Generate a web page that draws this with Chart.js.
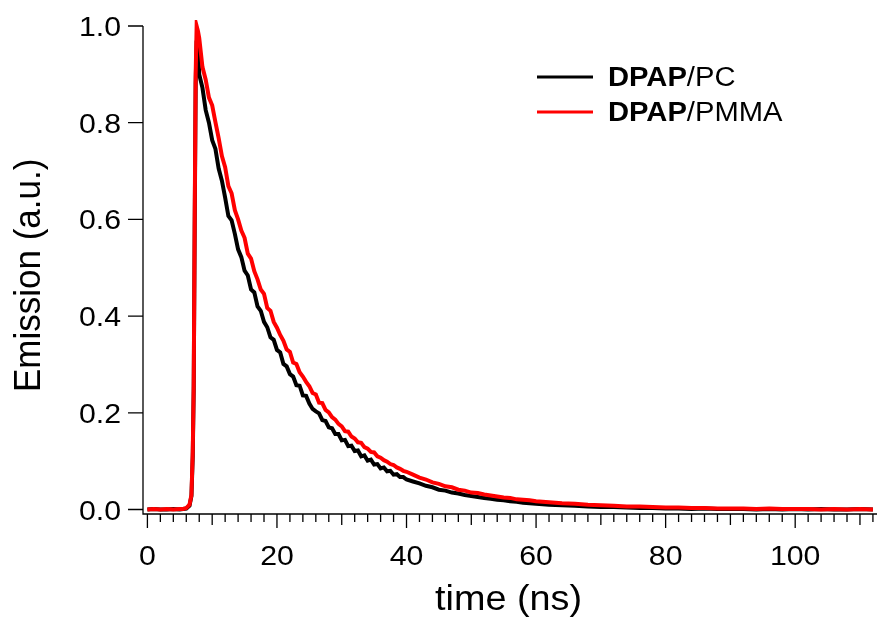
<!DOCTYPE html>
<html>
<head>
<meta charset="utf-8">
<script src="https://cdn.jsdelivr.net/npm/chart.js@4.4.1/dist/chart.umd.min.js"></script>
<style>
  html, body { margin: 0; padding: 0; background: #fff; overflow: hidden; }
  canvas { display: block; }
</style>
</head>
<body>
<canvas id="decayChart" width="877" height="619"></canvas>
<script>
// time axis (ns)
const timeNs = [0, 1, 2, 3, 4, 5, 5.5, 6, 6.5, 6.8, 7, 7.15, 7.3, 7.45, 7.6, 7.8,
  8, 8.5, 9, 9.5, 10, 10.5, 11, 11.5, 12, 12.5, 13, 13.5, 14, 14.5, 15, 15.5, 16, 16.5, 17, 17.5,
  18, 18.5, 19, 19.5, 20, 20.5, 21, 21.5, 22, 22.5, 23, 23.5, 24, 24.5, 25, 25.5, 26, 26.5, 27, 27.5,
  28, 28.5, 29, 29.5, 30, 30.5, 31, 31.5, 32, 32.5, 33, 33.5, 34, 34.5, 35, 35.5, 36, 36.5, 37, 37.5,
  38, 38.5, 39, 39.5, 40,
  41, 42, 43, 44, 45, 46, 47, 48, 49, 50, 51, 52, 53, 54, 55, 56, 57, 58, 59, 60,
  62, 64, 66, 68, 70, 72, 74, 76, 78, 80, 82, 84, 86, 88, 90, 92, 94, 96, 98, 100, 102, 104, 106, 108, 110, 112];

// DPAP/PC (black)
const pcEmission = [0.000, 0.001, 0.000, 0.000, 0.001, 0.000, 0.001, 0.002, 0.008, 0.028, 0.110, 0.250, 0.580, 0.880, 0.970, 0.955,
  0.900, 0.872, 0.826, 0.800, 0.764, 0.746, 0.705, 0.680, 0.645, 0.607,
  0.598, 0.570, 0.538, 0.522, 0.494, 0.484, 0.455, 0.449, 0.420, 0.411,
  0.388, 0.377, 0.356, 0.351, 0.330, 0.325, 0.301, 0.296, 0.280, 0.275,
  0.257, 0.256, 0.236, 0.235, 0.219, 0.208, 0.203, 0.199, 0.185, 0.183,
  0.170, 0.168, 0.156, 0.156, 0.143, 0.144, 0.131, 0.132, 0.121, 0.122,
  0.110, 0.112, 0.101, 0.103, 0.093, 0.094, 0.085, 0.087, 0.079, 0.080,
  0.072, 0.073, 0.067, 0.067, 0.062,
  0.058, 0.054, 0.049, 0.046, 0.041, 0.039, 0.035, 0.033, 0.030, 0.028, 0.026, 0.024, 0.022, 0.020, 0.019, 0.017, 0.016, 0.014, 0.013, 0.012,
  0.010, 0.009, 0.008, 0.006, 0.005, 0.005, 0.004, 0.003, 0.003, 0.002, 0.002, 0.001, 0.002, 0.001, 0.001, 0.001, 0.000, 0.001, 0.000, 0.001,
  0.000, 0.001, 0.000, 0.000, 0.001, 0.000];

// DPAP/PMMA (red)
const pmmaEmission = [0.000, 0.001, 0.000, 0.001, 0.000, 0.001, 0.001, 0.003, 0.010, 0.030, 0.120, 0.260, 0.600, 0.900, 1.000, 0.990,
  0.975, 0.915, 0.889, 0.852, 0.836, 0.801, 0.768, 0.731, 0.708, 0.669,
  0.654, 0.619, 0.600, 0.577, 0.562, 0.529, 0.519, 0.493, 0.476, 0.455,
  0.446, 0.417, 0.411, 0.388, 0.376, 0.361, 0.349, 0.331, 0.326, 0.304,
  0.301, 0.284, 0.275, 0.264, 0.255, 0.241, 0.238, 0.221, 0.220, 0.206,
  0.201, 0.191, 0.186, 0.177, 0.172, 0.162, 0.161, 0.151, 0.147, 0.139,
  0.138, 0.129, 0.126, 0.119, 0.118, 0.110, 0.107, 0.102, 0.099, 0.094,
  0.092, 0.087, 0.084, 0.080, 0.078,
  0.072, 0.066, 0.062, 0.056, 0.053, 0.048, 0.046, 0.041, 0.039, 0.035, 0.034, 0.031, 0.029, 0.027, 0.025, 0.024, 0.021, 0.020, 0.019, 0.017,
  0.015, 0.013, 0.012, 0.010, 0.009, 0.008, 0.006, 0.006, 0.005, 0.004, 0.004, 0.003, 0.003, 0.002, 0.002, 0.002, 0.001, 0.002, 0.001, 0.001,
  0.001, 0.000, 0.001, 0.000, 0.001, 0.000];

const xTickLabels = [0, 20, 40, 60, 80, 100];
const yTickLabels = [0.0, 0.2, 0.4, 0.6, 0.8, 1.0];
const seriesBold = ['DPAP', 'DPAP'];
const seriesRest = ['/PC', '/PMMA'];
const seriesColors = ['#000000', '#ff0000'];

const FONT = '"Liberation Sans", Arial, Helvetica, sans-serif';
const SX = 1.08; // reference text is a bit wider than tall

function toPoints(ys) {
    return timeNs.map((t, i) => ({ x: t, y: ys[i] }));
}

function wideText(ctx, txt, x, y, size, weight, align) {
    ctx.save();
    ctx.font = weight + ' ' + size + 'px ' + FONT;
    const w = ctx.measureText(txt).width * SX;
    let x0 = x;
    if (align === 'center') x0 = x - w / 2;
    else if (align === 'right') x0 = x - w;
    ctx.translate(x0, y);
    ctx.scale(SX, 1);
    ctx.textAlign = 'left';
    ctx.textBaseline = 'alphabetic';
    ctx.fillStyle = '#000';
    ctx.fillText(txt, 0, 0);
    ctx.restore();
    return w;
}

// Igor-style axes, ticks, labels and legend
const igorAxes = {
    id: 'igorAxes',
    afterDraw(chart) {
        const ctx = chart.ctx;
        const a = chart.chartArea;
        const x = chart.scales.x, y = chart.scales.y;
        ctx.save();
        ctx.strokeStyle = '#000';
        ctx.lineWidth = 1.3;
        ctx.beginPath();
        ctx.moveTo(a.left, a.top);
        ctx.lineTo(a.left, a.bottom);
        ctx.lineTo(a.right, a.bottom);
        yTickLabels.forEach(v => {
            const py = y.getPixelForValue(v);
            ctx.moveTo(a.left - 15, py);
            ctx.lineTo(a.left, py);
        });
        for (let t = 0; t <= x.max; t += 2) {
            const px = x.getPixelForValue(t);
            const len = t % 20 === 0 ? 14 : (t % 10 === 0 ? 11 : 8);
            ctx.moveTo(px, a.bottom);
            ctx.lineTo(px, a.bottom + len);
        }
        ctx.stroke();

        yTickLabels.forEach(v => {
            wideText(ctx, v.toFixed(1), 121, y.getPixelForValue(v) + 10, 28, 'normal', 'right');
        });
        xTickLabels.forEach(v => {
            wideText(ctx, String(v), x.getPixelForValue(v), 565, 28, 'normal', 'center');
        });

        // axis titles
        wideText(ctx, 'time (ns)', 435, 610, 35, 'normal', 'left');
        ctx.save();
        ctx.translate(40, 392);
        ctx.rotate(-Math.PI / 2);
        ctx.scale(1, SX);
        ctx.font = '35px ' + FONT;
        ctx.fillStyle = '#000';
        ctx.textBaseline = 'alphabetic';
        ctx.fillText('Emission (a.u.)', 0, 0);
        ctx.restore();

        // legend
        const rows = [77, 112];
        rows.forEach((ly, i) => {
            ctx.strokeStyle = seriesColors[i];
            ctx.lineWidth = 3;
            ctx.beginPath();
            ctx.moveTo(537, ly);
            ctx.lineTo(593, ly);
            ctx.stroke();
            const w = wideText(ctx, seriesBold[i], 608, ly + 9, 27, 'bold', 'left');
            wideText(ctx, seriesRest[i], 608 + w, ly + 9, 27, 'normal', 'left');
        });
        ctx.restore();
    }
};

new Chart(document.getElementById('decayChart'), {
    type: 'line',
    data: {
        datasets: [
            { label: 'DPAP/PC', data: toPoints(pcEmission), borderColor: seriesColors[0], borderWidth: 4, pointRadius: 0, tension: 0, order: 2, clip: 6 },
            { label: 'DPAP/PMMA', data: toPoints(pmmaEmission), borderColor: seriesColors[1], borderWidth: 4, pointRadius: 0, tension: 0, order: 1, clip: 6 }
        ]
    },
    options: {
        responsive: false,
        animation: false,
        devicePixelRatio: 1,
        layout: { padding: { top: 26, right: 0, left: 0, bottom: 0 } },
        plugins: { legend: { display: false }, tooltip: { enabled: false } },
        scales: {
            x: {
                type: 'linear', min: -0.68, max: 112.63,
                ticks: { display: false }, grid: { display: false }, border: { display: false },
                afterFit: s => { s.height = 105; }
            },
            y: {
                min: -0.0093, max: 1.0,
                ticks: { display: false }, grid: { display: false }, border: { display: false },
                afterFit: s => { s.width = 143; }
            }
        }
    },
    plugins: [igorAxes]
});
</script>
</body>
</html>
